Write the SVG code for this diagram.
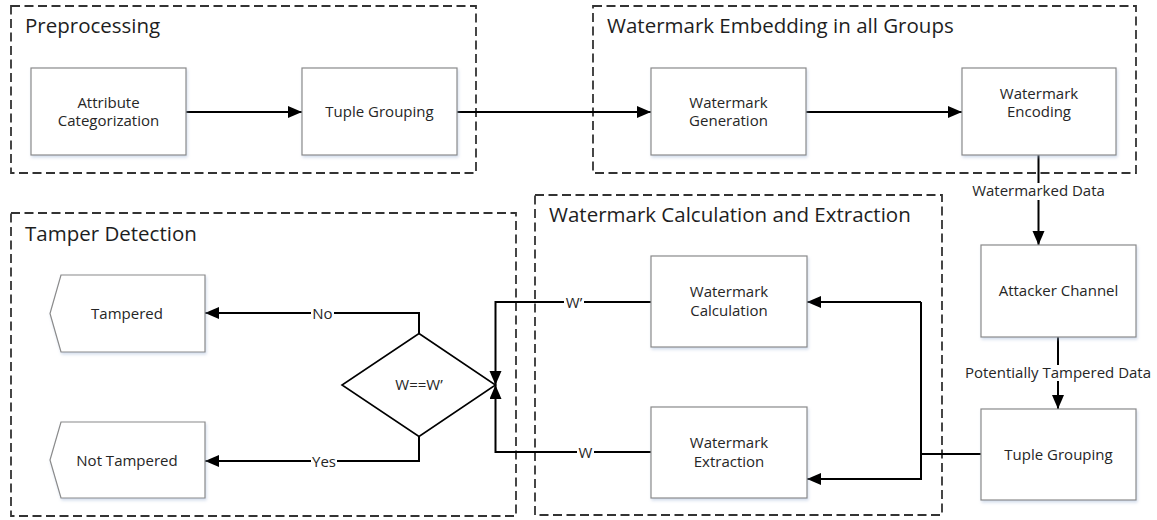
<svg xmlns="http://www.w3.org/2000/svg" width="1157" height="520" viewBox="0 0 1157 520">
<style>
.grp{fill:none;stroke:#333;stroke-width:1.8;stroke-dasharray:9 4.5}
.title{font-family:"Open Sans","Liberation Sans",sans-serif;font-size:20.5px;fill:#1e1e1e}
.box{fill:#fff;stroke:#8a8a8a;stroke-width:1.2;filter:url(#sh)}
.t{font-family:"Open Sans","Liberation Sans",sans-serif;font-size:15px;fill:#262626;text-anchor:middle}
.c{fill:none;stroke:#000;stroke-width:2}
.lbl{fill:#fff}
</style>
<defs>
<filter id="sh" x="-10%" y="-10%" width="130%" height="130%">
<feDropShadow dx="1" dy="2" stdDeviation="1.5" flood-color="#9db4d4" flood-opacity="0.45"/>
</filter>
<marker id="ah" markerUnits="userSpaceOnUse" markerWidth="15" markerHeight="13" refX="14" refY="6" orient="auto">
<path d="M0,0 L14,6 L0,12 z" fill="#000"/>
</marker>
</defs>
<rect width="1157" height="520" fill="#fff"/>

<g id="group-preprocessing">
<rect class="grp" x="11" y="6" width="465" height="167"/>
<text class="title" x="25" y="33">Preprocessing</text>
</g>
<g id="group-embedding">
<rect class="grp" x="593" y="6" width="543" height="167"/>
<text class="title" x="607" y="33">Watermark Embedding in all Groups</text>
</g>
<g id="group-tamper">
<rect class="grp" x="11" y="213" width="505" height="303"/>
<text class="title" x="25" y="241">Tamper Detection</text>
</g>
<g id="group-calc">
<rect class="grp" x="535" y="195" width="407" height="320"/>
<text class="title" x="549" y="222">Watermark Calculation and Extraction</text>
</g>

<g id="connectors">
<path class="c" d="M186,112 H302" marker-end="url(#ah)"/>
<path class="c" d="M457,112 H651" marker-end="url(#ah)"/>
<path class="c" d="M806,112 H962" marker-end="url(#ah)"/>
<path class="c" d="M1038.5,155 V245" marker-end="url(#ah)"/>
<path class="c" d="M1058,337 V409" marker-end="url(#ah)"/>
<path class="c" d="M981,454 H921"/>
<path class="c" d="M921,302 H807" marker-end="url(#ah)"/>
<path class="c" d="M921,302 V479 H807" marker-end="url(#ah)"/>
<path class="c" d="M651,302 H495.5 V385" marker-end="url(#ah)"/>
<path class="c" d="M651,452 H495.5 V385" marker-end="url(#ah)"/>
<path class="c" d="M419,333.5 V313 H205" marker-end="url(#ah)"/>
<path class="c" d="M419,436.5 V461 H205" marker-end="url(#ah)"/>
<rect class="lbl" x="970" y="183" width="138" height="17"/>
<text class="t" x="1038.5" y="196">Watermarked Data</text>
<rect class="lbl" x="963" y="365" width="191" height="16"/>
<text class="t" x="1058" y="378">Potentially Tampered Data</text>
<rect class="lbl" x="564" y="294" width="20" height="16"/>
<text class="t" x="574" y="307.5">W’</text>
<rect class="lbl" x="577" y="444" width="17" height="16"/>
<text class="t" x="585.5" y="457.5">W</text>
<rect class="lbl" x="311" y="305" width="23" height="16"/>
<text class="t" x="322.5" y="318.5">No</text>
<rect class="lbl" x="311" y="453" width="26" height="16"/>
<text class="t" x="324" y="466.5">Yes</text>
</g>

<g id="node-attr">
<rect class="box" x="31" y="68" width="155" height="87"/>
<text class="t" x="108.5" y="107.5">Attribute</text>
<text class="t" x="108.5" y="126">Categorization</text>
</g>
<g id="node-tuple1">
<rect class="box" x="302" y="68" width="155" height="87"/>
<text class="t" x="379.5" y="117">Tuple Grouping</text>
</g>
<g id="node-gen">
<rect class="box" x="651" y="68" width="155" height="87"/>
<text class="t" x="728.5" y="107.5">Watermark</text>
<text class="t" x="728.5" y="126">Generation</text>
</g>
<g id="node-enc">
<rect class="box" x="962" y="68" width="154" height="87"/>
<text class="t" x="1039" y="98.5">Watermark</text>
<text class="t" x="1039" y="117">Encoding</text>
</g>
<g id="node-attacker">
<rect class="box" x="981" y="245" width="155" height="92"/>
<text class="t" x="1058.5" y="296">Attacker Channel</text>
</g>
<g id="node-tuple2">
<rect class="box" x="981" y="409" width="155" height="91"/>
<text class="t" x="1058.5" y="459.5">Tuple Grouping</text>
</g>
<g id="node-calc">
<rect class="box" x="651" y="256" width="156" height="91"/>
<text class="t" x="729" y="297">Watermark</text>
<text class="t" x="729" y="315.5">Calculation</text>
</g>
<g id="node-extr">
<rect class="box" x="651" y="407" width="156" height="91"/>
<text class="t" x="729" y="448">Watermark</text>
<text class="t" x="729" y="466.5">Extraction</text>
</g>
<g id="node-decision">
<polygon points="419,333.5 495.5,385 419,436.5 342,385" fill="#fff" stroke="#000" stroke-width="1.6"/>
<text class="t" x="419" y="390">W==W’</text>
</g>
<g id="node-tampered">
<polygon class="box" points="61,275 205,275 205,352 61,352 50,313.5"/>
<text class="t" x="127" y="318.5">Tampered</text>
</g>
<g id="node-not-tampered">
<polygon class="box" points="61,422 205,422 205,498 61,498 50,460"/>
<text class="t" x="127" y="465.5">Not Tampered</text>
</g>
</svg>
